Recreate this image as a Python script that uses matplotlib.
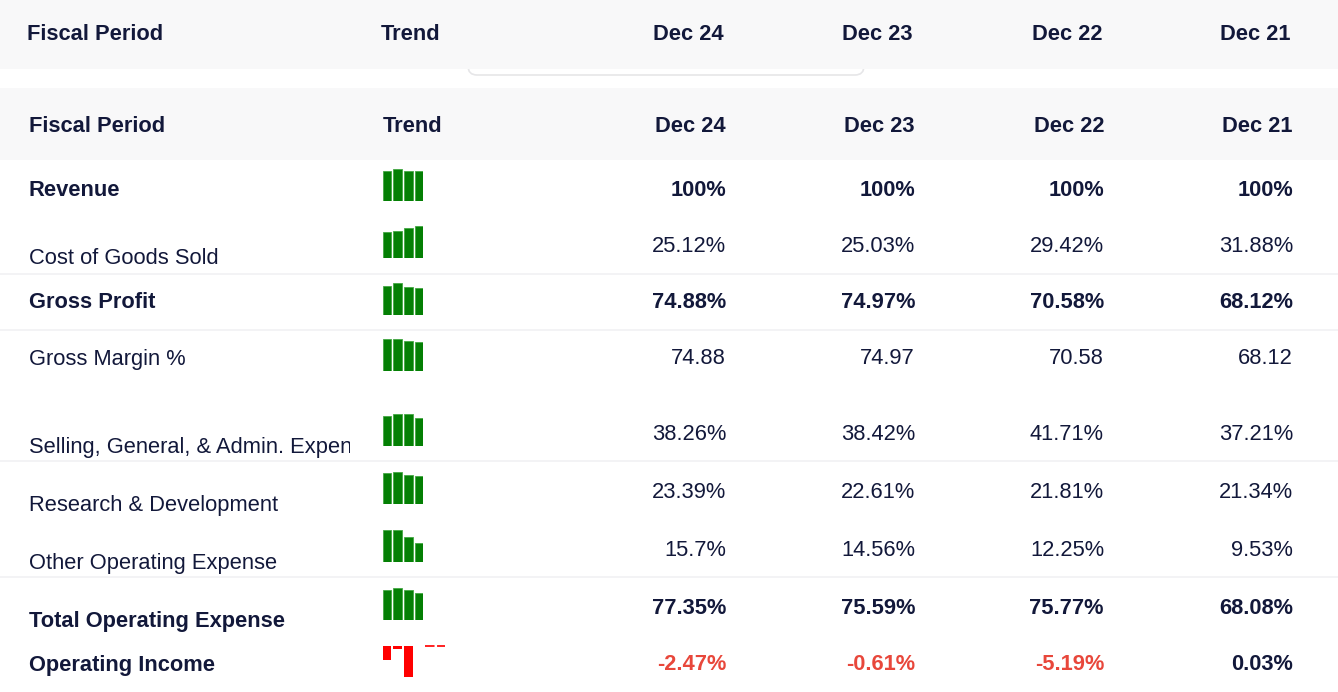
import matplotlib
matplotlib.use('Agg')
import matplotlib.pyplot as plt
from matplotlib.patches import Rectangle, FancyBboxPatch
from matplotlib.transforms import Bbox

plt.rcParams['font.family'] = ['Liberation Sans', 'DejaVu Sans']

# ---- data ----
periods = ['Dec 24', 'Dec 23', 'Dec 22', 'Dec 21']
row_labels = ['Revenue', 'Cost of Goods Sold', 'Gross Profit', 'Gross Margin %',
              'Selling, General, & Admin. Expenses', 'Research & Development',
              'Other Operating Expense', 'Total Operating Expense', 'Operating Income']
row_bold = [True, False, True, False, False, False, False, True, True]
row_pct = [True, True, True, False, True, True, True, True, True]

revenue = [100, 100, 100, 100]
cogs = [25.12, 25.03, 29.42, 31.88]
gross_profit = [74.88, 74.97, 70.58, 68.12]
gross_margin = [74.88, 74.97, 70.58, 68.12]
sga = [38.26, 38.42, 41.71, 37.21]
rnd = [23.39, 22.61, 21.81, 21.34]
other_opex = [15.7, 14.56, 12.25, 9.53]
total_opex = [77.35, 75.59, 75.77, 68.08]
operating_income = [-2.47, -0.61, -5.19, 0.03]
values = [revenue, cogs, gross_profit, gross_margin, sga, rnd,
          other_opex, total_opex, operating_income]

# sparkline bar heights (relative, tallest = 100), read from the trend column
trend_revenue = [92, 100, 94, 92]
trend_cogs = [79, 85, 94, 100]
trend_gross_profit = [92, 100, 88, 83]
trend_gross_margin = [100, 100, 94, 90]
trend_sga = [92, 99, 100, 88]
trend_rnd = [96, 100, 89, 86]
trend_other = [100, 100, 78, 60]
trend_total = [95, 100, 94, 83]
trend_opinc = operating_income
trends = [trend_revenue, trend_cogs, trend_gross_profit, trend_gross_margin,
          trend_sga, trend_rnd, trend_other, trend_total, trend_opinc]

# ---- layout (pixels, y downward) ----
W, H = 1338, 692
label_base = [195.5, 264.5, 308.5, 364.5, 452.5, 510.5, 568.5, 626.5, 670.5]
value_base = [195.5, 251.5, 308.5, 364.5, 439.5, 497.5, 555.5, 613.5, 670.5]
spark_bottom = [200.7, 257.7, 315, 371, 445.7, 503.7, 561.7, 620, 645.7]
separators = [274, 330, 461, 577]
col_right = [726, 915, 1104, 1293]

navy = '#12183a'
red = '#e8473b'
green = '#047f04'
header_bg = '#f8f8f9'
fs = 15.75

fig = plt.figure(figsize=(W / 100, H / 100), dpi=100)
ax = fig.add_axes([0, 0, 1, 1])
ax.set_xlim(0, W)
ax.set_ylim(H, 0)
ax.axis('off')

# faint rounded tab under the first header
ax.add_patch(FancyBboxPatch((468, 52), 396, 23, boxstyle='round,pad=0,rounding_size=9',
                            facecolor='white', edgecolor='#e6e6e8', lw=1.2, zorder=1))
# header bands
ax.add_patch(Rectangle((0, 0), W, 69, facecolor=header_bg, edgecolor='none', zorder=2))
ax.add_patch(Rectangle((0, 88), W, 72, facecolor=header_bg, edgecolor='none', zorder=2))

for y, dx in [(40.5, 0), (132.5, 2)]:
    ax.text(27 + dx, y, 'Fiscal Period', fontsize=fs, fontweight='bold', color=navy,
            va='baseline', ha='left', zorder=3)
    ax.text(381 + dx, y, 'Trend', fontsize=fs, fontweight='bold', color=navy,
            va='baseline', ha='left', zorder=3)
    for xr, p in zip(col_right, periods):
        ax.text(xr - 2 + dx, y, p, fontsize=fs, fontweight='bold', color=navy,
                va='baseline', ha='right', zorder=3)

for ys in separators:
    ax.plot([0, W], [ys, ys], color='#f1f1f3', lw=1.2, zorder=1)

clip = Bbox.from_extents(0, 0, 350, H)
for i, lab in enumerate(row_labels):
    wt = 'bold' if row_bold[i] else 'normal'
    t = ax.text(29, label_base[i], lab, fontsize=fs, fontweight=wt, color=navy,
                va='baseline', ha='left', zorder=3)
    t.set_clip_box(clip)
    t.set_clip_on(True)
    for xr, v in zip(col_right, values[i]):
        s = f'{v:g}%' if row_pct[i] else f'{v:g}'
        c = red if v < 0 else navy
        ax.text(xr, value_base[i], s, fontsize=fs, fontweight=wt, color=c,
                va='baseline', ha='right', zorder=3)

# ---- sparklines ----
unit = 10.77
x0 = 382.7
for i, tr in enumerate(trends):
    if min(tr) < 0:
        right = 445
        xmax = (right - x0) / unit - 0.385
        top = spark_bottom[i]
        bot = top + 31
        sax = fig.add_axes([x0 / W, 1 - bot / H, (right - x0) / W, 31 / H])
        sax.bar(range(len(tr)), tr, width=0.77, color='#ff0000', edgecolor='none')
        sax.plot([3.54, xmax], [0, 0], color='#ff2020', lw=1.4,
                 ls=(0, (4.9, 1.3)), clip_on=False, solid_capstyle='butt')
        sax.set_xlim(-0.385, xmax)
        sax.set_ylim(min(tr), 0)
    else:
        bot = spark_bottom[i]
        sax = fig.add_axes([x0 / W, 1 - bot / H, 3.77 * unit / W, 32 / H])
        sax.bar(range(len(tr)), tr, width=0.77, color=green, edgecolor='#43a843', lw=0.6)
        sax.set_xlim(-0.385, 3.385)
        sax.set_ylim(0, 100)
    sax.axis('off')

fig.savefig('out.png', dpi=100, facecolor='white')
